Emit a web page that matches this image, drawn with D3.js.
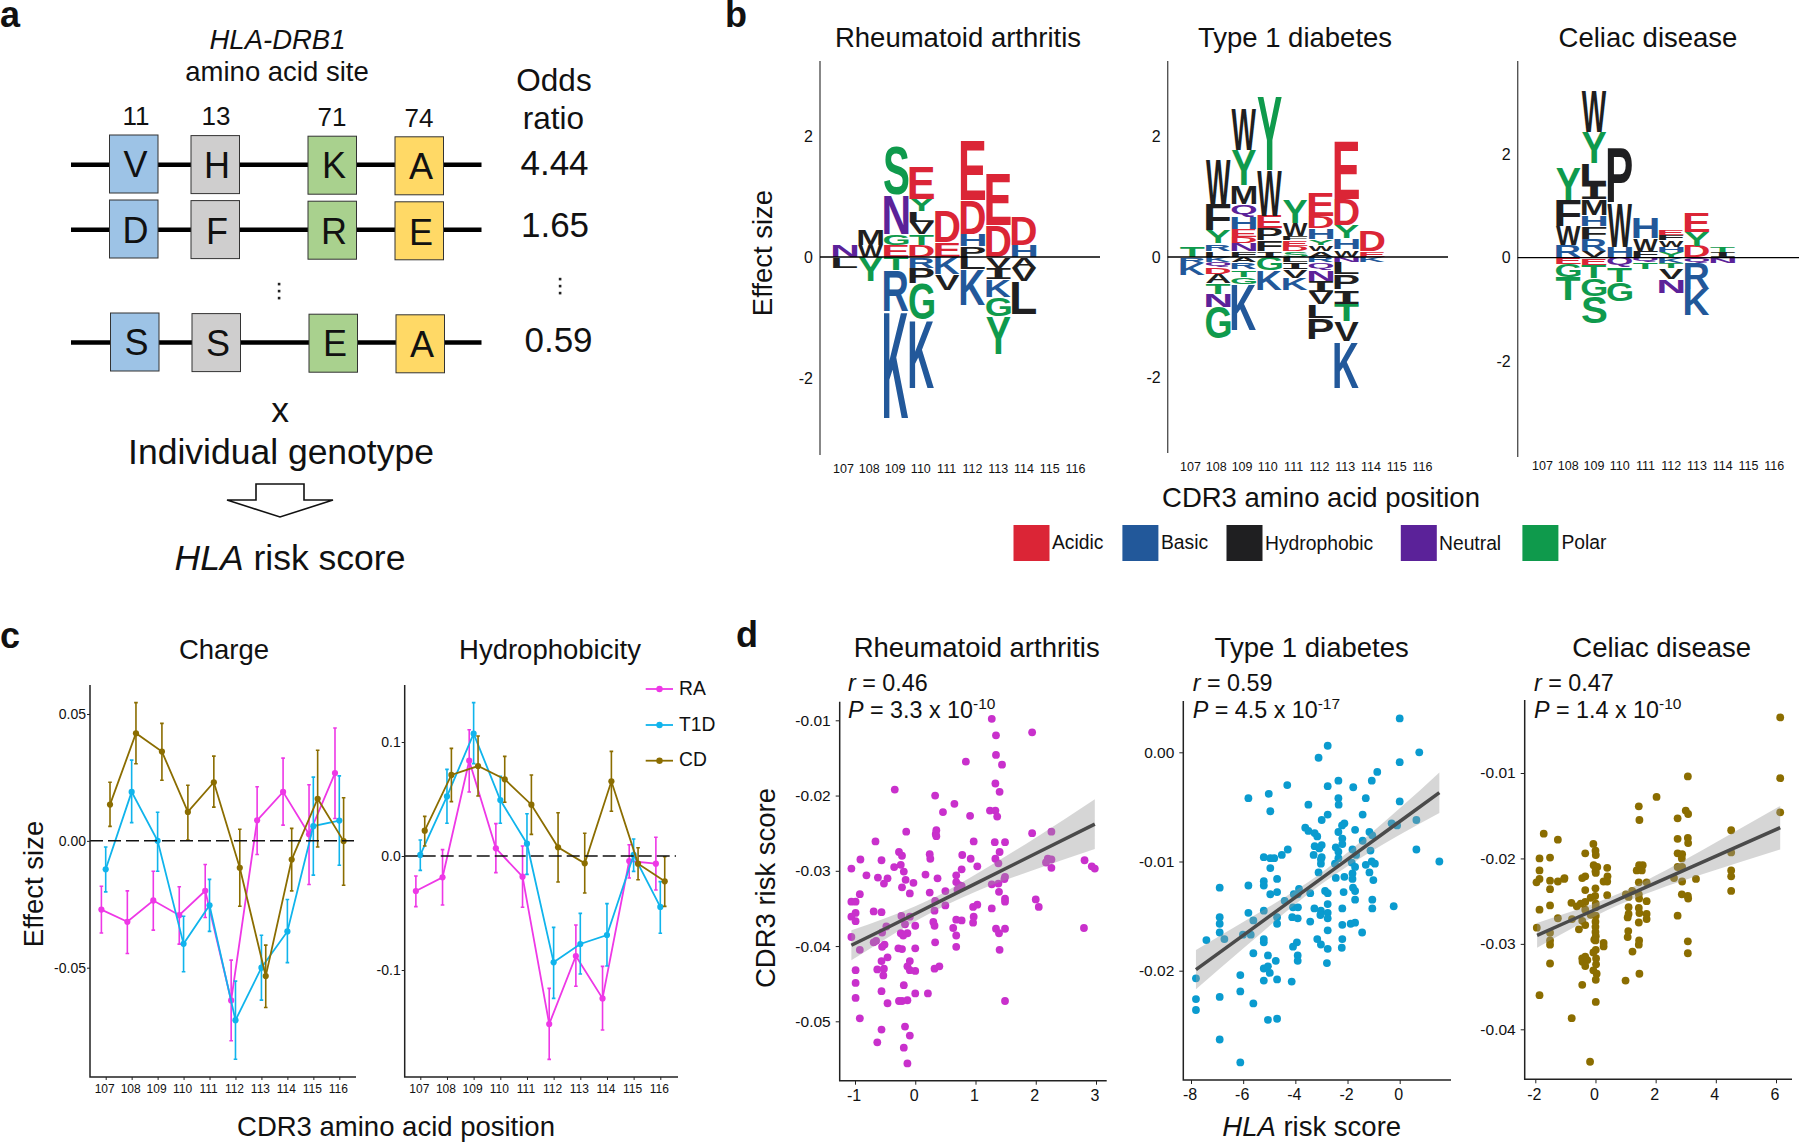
<!DOCTYPE html>
<html><head><meta charset="utf-8">
<script src="https://cdn.jsdelivr.net/npm/d3@7/dist/d3.min.js"></script>
<style>html,body{margin:0;padding:0;background:#fff}svg{display:block}text{font-family:"Liberation Sans",Arial,sans-serif;fill:#111}</style>
</head><body><svg id="c" width="1800" height="1145" viewBox="0 0 1800 1145"></svg>
<script>
// ---------- panel a
const siteLabels=["11","13","71","74"];
const alleleRows=[["V","H","K","A"],["D","F","R","E"],["S","S","E","A"]];
const oddsRatios=["4.44","1.65","0.59"];
const boxColors=["#9DC3E6","#CFCECE","#A9D18E","#FFD966"];
// ---------- panel b : [position, up-stack from zero, down-stack from zero], heights in effect size
const logoRA=[
[107,[["N",.20]],[["L",.18]]],
[108,[["W",.20],["M",.26]],[["Y",.40]]],
[109,[["E",.19],["G",.19],["N",.65],["S",.82]],[["T",.22],["R",.67],["K",1.78]]],
[110,[["D",.19],["T",.18],["V",.20],["L",.18],["Y",.21],["E",.53]],[["R",.18],["P",.26],["G",.60],["K",1.13]]],
[111,[["E",.25],["D",.52]],[["K",.28],["V",.27]]],
[112,[["P",.17],["H",.20],["D",.56],["E",.98]],[["L",.21],["K",.59]]],
[113,[["D",.52],["E",.85]],[["V",.18],["I",.19],["K",.29],["G",.32],["Y",.63]]],
[114,[["H",.19],["D",.48]],[["A",.18],["V",.22],["L",.54]]]];
const logoT1D=[
[107,[["T",.18]],[["R",.10],["K",.20]]],
[108,[["L",.10],["R",.12],["Y",.21],["F",.43],["W",.75]],[["K",.09],["Q",.09],["D",.11],["A",.15],["T",.17],["N",.22],["G",.53]]],
[109,[["F",.09],["N",.13],["D",.11],["E",.13],["H",.21],["Q",.21],["M",.31],["Y",.58],["W",.68]],[["A",.09],["R",.12],["T",.12],["G",.12],["K",.76]]],
[110,[["I",.09],["F",.18],["P",.20],["E",.21],["W",.76],["Y",1.22]],[["G",.23],["K",.33]]],
[111,[["S",.09],["D",.09],["E",.09],["F",.08],["W",.21],["Y",.38]],[["L",.09],["I",.12],["V",.14],["K",.20]]],
[112,[["A",.09],["W",.10],["Y",.10],["H",.18],["D",.20],["E",.40]],[["R",.09],["Q",.12],["N",.19],["I",.19],["V",.20],["L",.22],["P",.36]]],
[113,[["W",.12],["H",.19],["Y",.21],["D",.43],["E",.96]],[["N",.09],["L",.20],["P",.25],["I",.24],["T",.29],["V",.33],["K",.77]]],
[114,[["E",.09],["D",.35]],[["K",.09]]]];
const logoCD=[
[108,[["R",.23],["W",.37],["F",.50],["Y",.62]],[["E",.12],["G",.26],["T",.45]]],
[109,[["V",.13],["R",.23],["F",.24],["H",.22],["M",.30],["I",.29],["L",.41],["Y",.60],["W",.79]],[["E",.14],["T",.26],["G",.35],["S",.52]]],
[110,[["H",.21],["W",.84],["P",1.07]],[["Q",.19],["T",.29],["G",.36]]],
[111,[["F",.13],["W",.24],["H",.40]],[["Q",.09],["T",.14]]],
[112,[["Y",.11],["H",.10],["W",.12],["F",.11],["E",.11]],[["K",.11],["T",.10],["V",.20],["N",.27]]],
[113,[["D",.22],["Y",.27],["E",.38]],[["Q",.10],["R",.50],["K",.52]]],
[114,[["I",.10],["T",.11]],[["N",.10]]]];
const legendClasses=["Acidic","Basic","Hydrophobic","Neutral","Polar"];
const classColors={Acidic:"#DB2536",Basic:"#22589A",Hydrophobic:"#1F1F21",Neutral:"#5B2299",Polar:"#0F9A4C"};
const classOfLetter={D:"Acidic",E:"Acidic",K:"Basic",R:"Basic",H:"Basic",A:"Hydrophobic",V:"Hydrophobic",L:"Hydrophobic",I:"Hydrophobic",P:"Hydrophobic",F:"Hydrophobic",W:"Hydrophobic",M:"Hydrophobic",Q:"Neutral",N:"Neutral",S:"Polar",G:"Polar",T:"Polar",Y:"Polar"};
// ---------- panel c : [centre, upper, lower]
const cdr3Positions=[107,108,109,110,111,112,113,114,115,116];
const chargeRA=[[-.0271,-.0179,-.0363],[-.0319,-.0197,-.0444],[-.0235,-.012,-.0352],[-.0293,-.0181,-.0407],[-.0197,-.0093,-.0302],[-.0629,-.047,-.0788],[.0081,.0213,-.0054],[.0193,.0326,.0062],[.0026,.0221,-.0172],[.0267,.0445,.0088]];
const chargeT1D=[[-.0112,-.0024,-.0201],[.0193,.0318,.0072],[0,.0113,-.012],[-.0406,-.0297,-.0516],[-.0254,-.0152,-.0357],[-.0707,-.0553,-.0861],[-.05,-.0372,-.0628],[-.0357,-.0231,-.048],[.0058,.0251,-.0135],[.008,.0256,-.0096]];
const chargeCD=[[.0143,.0231,.0057],[.0424,.0545,.0304],[.0352,.0463,.0239],[.0114,.0219,.0003],[.0231,.0334,.0133],[-.0106,.0046,-.0258],[-.0533,-.0411,-.0657],[-.0074,.0049,-.0197],[.0166,.0357,-.0024],[-.0001,.017,-.0175]];
const hydroRA=[[-.0307,-.0175,-.0444],[-.0187,.0056,-.043],[.0836,.1108,.0561],[.0067,.0284,-.0146],[-.0181,.0088,-.045],[-.1474,-.1161,-.1784],[-.0877,-.0605,-.1143],[-.1249,-.0968,-.1526],[-.0044,.0099,-.0193],[-.0067,.0164,-.0298]];
const hydroT1D=[[.0009,.014,-.0126],[.0523,.076,.0287],[.1073,.1345,.081],[.0491,.0699,.0287],[.0108,.0371,-.0161],[-.0933,-.0626,-.1249],[-.0772,-.0503,-.1035],[-.0693,-.0418,-.0965],[.0009,.0149,-.0135],[-.0447,-.0225,-.0678]];
const hydroCD=[[.0222,.0348,.0088],[.0711,.0944,.0477],[.0789,.1053,.0526],[.0673,.0874,.0471],[.045,.0711,.019],[.0076,.038,-.0228],[-.0064,.0199,-.0325],[.0655,.0918,.0392],[-.0067,.0073,-.0208],[-.0222,-.0006,-.0442]];
// ---------- panel d : [HLA risk score, CDR3 risk score x 1000]
const scatterRA=[[1.27,-9.8],[1.34,-12],[1.34,-14.6],[1.44,-15.9],[1.94,-11.6],[.84,-15.5],[1.33,-18.4],[1.4,-19.5],[-.34,-19.2],[.33,-20],[.65,-21.1],[.46,-22.2],[1.24,-22],[1.33,-22],[1.36,-22.8],[.91,-22.7],[.35,-24.6],[.34,-25.1],[.35,-25.4],[-.15,-24.8],[1.94,-25],[2.26,-24.8],[-.66,-26.1],[.97,-26.1],[1.32,-26.2],[1.49,-26.2],[-.27,-27.5],[-.22,-28],[.24,-27.8],[.25,-28.4],[.78,-27.9],[1.4,-27.5],[.92,-28.4],[1.33,-28.4],[-.91,-28.5],[-.56,-28.6],[1.38,-29],[2.81,-28.6],[2.2,-28.4],[2.26,-28.5],[2.17,-28.9],[-.24,-29.2],[-.35,-29.5],[-.19,-30.1],[1.03,-29.4],[.77,-29.8],[-1.06,-29.7],[2.26,-29.6],[2.93,-29.4],[2.98,-29.7],[-.81,-30.6],[-.62,-30.9],[-.46,-31],[-.52,-31.7],[-.16,-31.2],[.17,-30.5],[.37,-31],[.68,-30.6],[.68,-31.5],[1.49,-30.8],[1.48,-31.1],[-.03,-31.6],[-.22,-32.2],[.73,-31.9],[.77,-32],[.7,-32.5],[.5,-32.7],[1.27,-31.8],[1.38,-31.7],[-.09,-33],[.24,-32.9],[-.92,-33.1],[1.39,-32.8],[-1.06,-34.1],[-.99,-34.1],[.33,-34],[.5,-34.6],[1.49,-33.7],[1.49,-34.1],[1.03,-34.5],[.96,-34.8],[1.27,-35],[2,-33.8],[2.05,-34.8],[-.69,-35.4],[-.56,-35.5],[-.99,-35.6],[-1.06,-36.1],[-.99,-36.7],[.32,-35.3],[-.23,-36],[-.09,-36.1],[.97,-36.1],[.68,-36.5],[.77,-36.6],[.96,-36.9],[.3,-36.8],[.32,-37.3],[0,-37.3],[-.48,-37.4],[-.17,-37.1],[.63,-37.6],[1.34,-37.7],[1.49,-37.7],[2.8,-37.6],[-.55,-38.2],[-.24,-38.3],[-.13,-38.3],[-.2,-38.6],[1.39,-38.3],[.68,-38.6],[-1.06,-38.8],[-.65,-39.3],[-.69,-39.5],[-.51,-39.8],[-.55,-40.1],[.33,-39.5],[.68,-40.1],[-.28,-40.3],[-.22,-40.4],[0,-40.3],[-.92,-40.5],[1.4,-40.5],[-.46,-41.5],[-.56,-42],[-.09,-42],[-.99,-43.2],[-.63,-43.1],[-.52,-43],[-.53,-43.9],[-.13,-42.7],[-.09,-43.2],[0,-43.3],[.32,-43],[.4,-42.7],[-.99,-44.9],[-.19,-45.2],[-.56,-46],[0,-46.3],[.21,-46.3],[-.99,-46.9],[-.27,-47.3],[-.22,-47.3],[-.13,-47.2],[-.46,-47.6],[1.49,-47.3],[-.92,-49.6],[-.17,-50.7],[-.56,-51.1],[-.09,-51.9],[-.63,-52.8],[-.19,-53.5],[-.13,-55.6]];
const scatterT1D=[[0,3.1],[-2.76,.6],[-3.11,-.5],[.75,0],[0,-.9],[-.86,-1.8],[-1.07,-2.6],[-2.35,-2.6],[-2.76,-3.1],[-1.78,-3.2],[-4.31,-3],[-5.02,-3.8],[-5.8,-4.2],[-1.3,-4.2],[-2.35,-4.2],[0,-4.5],[-3.5,-4.8],[-2.34,-4.8],[-4.96,-5.4],[-2.76,-5.7],[-1.42,-5.7],[-2.99,-6.2],[.64,-6.2],[-.31,-6.5],[-.1,-6.7],[-2.12,-6.5],[-2.21,-6.7],[-3.62,-6.9],[-3.5,-7.2],[-1.71,-7.1],[-2.35,-7.3],[-1.16,-7.3],[-3.26,-7.4],[-1.05,-7.6],[-3.16,-7.7],[-2.2,-7.9],[-1.42,-8.1],[-2.99,-8.5],[-2.2,-8.4],[-3.26,-8.6],[-3.08,-8.8],[-2.45,-8.7],[-2.35,-9.1],[-4.29,-8.9],[-1.81,-8.9],[.64,-8.9],[-1.12,-9],[-4.52,-9.4],[-3.3,-9.4],[-5.21,-9.6],[-4.96,-9.7],[-4.81,-9.7],[-2.99,-9.6],[-3.02,-9.8],[-1.67,-9.4],[-2.35,-9.7],[-3.02,-10.2],[-2.48,-10.2],[-1.84,-10.1],[-1.3,-10.3],[-1.71,-10.5],[-1.07,-10],[-.95,-10.2],[-4.96,-10.6],[1.52,-10],[-3.11,-11],[-1.16,-11],[-1.81,-11.1],[-2.45,-11.5],[-2.12,-11.4],[-1.81,-11.6],[-4.7,-11.6],[-1.01,-11.7],[-5.21,-11.8],[-5.21,-12.2],[-5.8,-12.2],[-6.9,-12.4],[-1.79,-12.4],[-3.86,-12.5],[-2.86,-12.7],[-2.76,-12.9],[-1.71,-12.7],[-4.7,-12.8],[-2.15,-12.8],[-4.96,-13],[-3.43,-12.9],[-4.06,-13],[-3.91,-13],[-4.41,-13.6],[-1.71,-13.5],[-1.05,-13.5],[-2.76,-13.9],[-4.09,-14.2],[-3.9,-14.2],[-2.2,-14.3],[-1.05,-14.3],[-.23,-14.1],[-3.27,-14.3],[-5.21,-14.5],[-5.8,-14.7],[-3.02,-14.5],[-2.76,-14.7],[-3.04,-14.9],[-6.9,-15.1],[-4.7,-15.1],[-4.12,-15.1],[-3.91,-15.2],[-2.76,-15.2],[-5.61,-15.4],[-3.43,-15.5],[-6.9,-15.7],[-4.7,-15.7],[-2.2,-15.8],[-1.88,-15.7],[-1.71,-15.6],[-2.76,-16.3],[-6.9,-16.5],[-6.01,-16.7],[-5.71,-16.7],[-1.44,-16.5],[-6.72,-17.1],[-7.41,-17.2],[-5.21,-17.1],[-5.21,-17.4],[-3.16,-17.1],[-2.2,-17.1],[-3.02,-17.6],[-3.94,-17.4],[-4.09,-17.8],[-2.76,-18],[-2.22,-17.9],[-5.61,-18.4],[-5.05,-18.6],[-3.91,-18.6],[-3.91,-19.1],[-4.75,-19.1],[-2.79,-19.3],[-5.21,-19.8],[-5.05,-19.6],[-4.98,-20.2],[-6.11,-20.4],[-7.81,-20.7],[-5.21,-20.9],[-4.7,-20.8],[-4.14,-21],[-6.11,-21.9],[-7.81,-22.6],[-6.9,-22.4],[-5.61,-23],[-7.81,-23.6],[-5.05,-24.5],[-4.7,-24.4],[-6.9,-26.3],[-6.11,-28.4]];
const scatterCD=[[6.14,-3.5],[3.07,-10.4],[6.14,-10.6],[2.03,-12.8],[1.44,-13.9],[3,-14.4],[3.08,-14.8],[6.14,-14.6],[1.46,-15.5],[2.73,-15.3],[4.51,-16.7],[-1.72,-17.1],[-1.25,-17.8],[2.73,-17.7],[3.07,-17.6],[3.08,-18.2],[-.07,-18.3],[0,-19.1],[.01,-19.6],[-.34,-19.4],[2.73,-19.4],[2.88,-19.5],[2.87,-20],[-1.86,-20],[-1.51,-19.9],[4.51,-19.3],[-1.86,-21.4],[-.06,-20.8],[.06,-21],[.39,-21.1],[0,-21.5],[1.37,-21.4],[1.45,-20.8],[1.57,-20.8],[1.54,-21.4],[2.73,-21],[2.88,-21],[.01,-21.7],[.4,-22.1],[-.34,-22.1],[-.44,-22.3],[-1.86,-22.4],[-1.96,-22.8],[-1.51,-22.6],[-1.25,-22.7],[-1.03,-22.3],[-1.04,-22.4],[.39,-22.7],[.27,-22.7],[4.51,-21.4],[4.51,-22.1],[2.61,-22.3],[3.34,-22.4],[2.88,-22.7],[1.44,-22.8],[1.7,-22.8],[0,-23.5],[-.34,-23.7],[-1.51,-23.6],[-.01,-24.4],[-.16,-24.6],[.39,-24.3],[1.01,-24.2],[1.22,-23.8],[1.1,-24.5],[1.44,-24.2],[1.45,-24.7],[2.87,-24.2],[3.07,-24.4],[3.08,-24.7],[4.51,-23.8],[-.8,-25.2],[-.34,-25.1],[-.49,-25.3],[-.62,-25.6],[-1.51,-25.5],[-1.86,-26],[.01,-25.3],[.01,-25.7],[-.34,-26],[1.1,-25.7],[1.44,-25.8],[1.7,-25],[1.1,-26.5],[1.46,-26.4],[1.7,-26.5],[1.07,-26.9],[-1.25,-27],[2.73,-26.7],[1.7,-27.1],[-.16,-26.6],[.01,-26.7],[-.78,-27.1],[-.44,-27.3],[-.34,-27.8],[0,-27.4],[1.44,-27.5],[-1.95,-28.1],[-.55,-28.3],[0,-28],[0,-28.6],[1.09,-28.5],[1.07,-29.2],[-1.51,-28.7],[-1.51,-29.6],[-1.51,-30.1],[.01,-29.1],[-.04,-29.5],[0,-29.6],[.27,-29.9],[.27,-30.3],[1.45,-29.6],[1.44,-30.1],[3.07,-29.7],[3.07,-31.1],[1.23,-30.9],[.01,-30.7],[-.07,-31],[-.44,-31.7],[-.34,-31.5],[-.43,-32.1],[-.27,-31.9],[.02,-31.7],[-.34,-32.6],[.02,-32.4],[-.07,-33.1],[.04,-33.5],[.01,-34.2],[-1.51,-32.3],[1.46,-33.5],[1,-34.3],[-.44,-34.8],[-1.86,-36],[.01,-36.8],[-.79,-38.7],[-.18,-43.8]];
// regression lines and confidence bands: [x, line, upper, lower]
const fitRA=[[-1.06,-39.9,-37.9,-41.9],[-.5,-37.7,-36.3,-39.1],[0,-35.7,-34.7,-36.7],[.4,-34.1,-33.2,-35],[1,-31.7,-30.5,-32.8],[2,-27.7,-25.6,-29.8],[2.98,-23.8,-20.5,-27.1]];
const fitT1D=[[-7.81,-19.9,-18.1,-21.7],[-6,-16.76,-15.55,-17.97],[-4,-13.29,-12.66,-13.92],[-3,-11.55,-11.03,-12.07],[-2,-9.81,-9.18,-10.44],[0,-6.34,-5.13,-7.55],[1.52,-3.7,-1.84,-5.56]];
const fitCD=[[-1.94,-29,-27.56,-30.44],[-1,-27.53,-26.46,-28.6],[0,-25.98,-25.22,-26.74],[.8,-24.73,-24.07,-25.39],[2,-22.86,-22,-23.72],[3.5,-20.52,-19.12,-21.92],[6.14,-16.4,-13.86,-18.94]];

const svg=d3.select("#c");
function T(x,y,s,size,o={}){const t=svg.append("text").attr("x",x).attr("y",y).attr("font-size",size).attr("text-anchor",o.anchor||"middle").text(s);
 if(o.bold)t.attr("font-weight","bold");if(o.italic)t.attr("font-style","italic");if(o.rot)t.attr("transform",`rotate(${o.rot} ${x} ${y})`);return t;}
// panel letters
T(0,27,"a",36,{bold:1,anchor:"start"});T(725,27,"b",36,{bold:1,anchor:"start"});
T(0,648,"c",36,{bold:1,anchor:"start"});T(736,647,"d",36,{bold:1,anchor:"start"});

// ===== panel a =====
T(277.5,49,"HLA-DRB1",27.5,{italic:1});T(277,81,"amino acid site",27.5);
T(554,91,"Odds",31.5);T(553.5,129,"ratio",31.5);
const siteX=[109.5,191,308,395],rowLine=[164.7,229.7,342.5],rowTop=[135,200,313],rowBase=[177,243,355];
const siteTxtY=[125,125,126,127],siteTxtX=[136,216,332,419];
siteLabels.forEach((s,i)=>T(siteTxtX[i],siteTxtY[i],s,26));
alleleRows.forEach((row,r)=>{
 svg.append("line").attr("x1",71).attr("x2",481.5).attr("y1",rowLine[r]).attr("y2",rowLine[r]).attr("stroke","#000").attr("stroke-width",4.6);
 row.forEach((a,i)=>{const dx=r==2?1:0;
  svg.append("rect").attr("x",siteX[i]+dx).attr("y",rowTop[r]+i*.6).attr("width",48.5).attr("height",58).attr("fill",boxColors[i]).attr("stroke","#333").attr("stroke-width",1);
  T(siteX[i]+dx+26,rowBase[r]+i*.6,a,36);
 });
});
[["4.44",554.5,175],["1.65",555,237],["0.59",558.5,351.5]].forEach((d,i)=>T(d[1],d[2],oddsRatios[i],35));
[[279,[284,291,298]],[560,[279,286,293]]].forEach(([x,ys])=>ys.forEach(y=>svg.append("rect").attr("x",x-1.2).attr("y",y-1.2).attr("width",2.6).attr("height",2.6).attr("fill","#222")));
T(280,422,"x",35.5);T(281,464,"Individual genotype",35.5);
svg.append("path").attr("d","M227 500H256V484H304V500H333L280 517Z").attr("fill","#fff").attr("stroke","#111").attr("stroke-width",1.6);
const hr=T(290,569.5,"",35.5);hr.append("tspan").attr("font-style","italic").text("HLA");hr.append("tspan").text(" risk score");

// ===== panel b =====
const ctx=document.createElement("canvas").getContext("2d");
function glyph(l,x0,x1,y0,y1,color){
 const fam=l==="I"?'"Liberation Mono"':'"Liberation Sans"';
 ctx.font=`bold 100px ${fam}`;
 const m=ctx.measureText(l);
 const L=-m.actualBoundingBoxLeft,R=m.actualBoundingBoxRight,A=m.actualBoundingBoxAscent,D=m.actualBoundingBoxDescent;
 const sx=(x1-x0)/(R-L),sy=(y1-y0)/(A+D);
 svg.append("text").attr("font-size",100).attr("font-weight","bold").style("font-family",fam).style("fill",color)
  .attr("transform",`translate(${x0-L*sx},${y1-D*sy}) scale(${sx},${sy})`).text(l);}
function logo(o){
 const x=d3.scaleLinear().domain([107,114]).range([o.x0,o.x1]);
 const y=d3.scaleLinear().domain([2,-2]).range([o.zero-o.h,o.zero+o.h]);
 const w=24.6;
 o.data.forEach(([p,up,down])=>{
  let s=0;up.forEach(([l,v])=>{glyph(l,x(p)-w/2,x(p)+w/2,y(s+v)+.3,y(s)-.3,classColors[classOfLetter[l]]);s+=v;});
  s=0;down.forEach(([l,v])=>{glyph(l,x(p)-w/2,x(p)+w/2,y(s)+.3,y(s-v)-.3,classColors[classOfLetter[l]]);s-=v;});
 });
 svg.append("line").attr("x1",o.axis).attr("x2",o.axis).attr("y1",61).attr("y2",o.bottom).attr("stroke","#555").attr("stroke-width",1.4);
 svg.append("line").attr("x1",o.axis).attr("x2",o.end).attr("y1",o.zero).attr("y2",o.zero).attr("stroke","#000").attr("stroke-width",1.3);
 const ya=svg.append("g").attr("transform",`translate(${o.axis-7},0)`).call(d3.axisLeft(y).tickValues([2,0,-2]).tickSize(0).tickFormat(v=>String(v)));
 ya.select(".domain").remove();ya.selectAll("text").attr("font-size",16).attr("font-family",null).attr("dx",3);
 const xl=d3.scaleLinear().domain([107,116]).range([o.l0,o.l1]);
 const xa=svg.append("g").attr("transform",`translate(0,${o.labY-11})`).call(d3.axisBottom(xl).tickValues(cdr3Positions).tickSize(0).tickFormat(String));
 xa.select(".domain").remove();xa.selectAll("text").attr("font-size",12.5).attr("font-family",null).attr("y",0).attr("dy","0.84em");
 T(o.titleX,47,o.title,27.5);
}
logo({data:logoRA,x0:845,x1:1024,zero:257,h:121,axis:820,bottom:455,end:1100,l0:843,l1:1075,labY:473,title:"Rheumatoid arthritis",titleX:958});
logo({data:logoT1D,x0:1192.5,x1:1372.3,zero:257,h:120.7,axis:1167.7,bottom:453,end:1448,l0:1190,l1:1422,labY:471,title:"Type 1 diabetes",titleX:1295});
logo({data:logoCD,x0:1542.6,x1:1722.7,zero:257.7,h:103.7,axis:1517.7,bottom:457,end:1799,l0:1542,l1:1773.7,labY:470,title:"Celiac disease",titleX:1648});
T(772,253,"Effect size",27.5,{rot:-90});
T(1321,507,"CDR3 amino acid position",27.5);
const swX=[1013.5,1122.4,1226.5,1400.8,1522.4],labX=[1052,1161,1265,1439,1561.5],labY=[549,549,550,550,549];
legendClasses.forEach((c,i)=>{svg.append("rect").attr("x",swX[i]).attr("y",525).attr("width",36).attr("height",36).attr("fill",classColors[c]);
 T(labX[i],labY[i],c,19.3,{anchor:"start"});});

// ===== panel c =====
const seriesColor={RA:"#EE38E6",T1D:"#10B4EC",CD:"#8B6D00"};
const dodge={RA:-.166,T1D:0,CD:.166};
function profile(o){
 const x=d3.scaleLinear().domain([107,116]).range(o.xr);
 const y=d3.scaleLinear().domain(o.yd).range(o.yr);
 const bottom=1077;
 [["RA",o.RA],["T1D",o.T1D],["CD",o.CD]].forEach(([k,d])=>{
  const g=svg.append("g"),c=seriesColor[k],X=i=>x(cdr3Positions[i]+dodge[k]);
  g.append("path").attr("d",d3.line().x((v,i)=>X(i)).y(v=>y(v[0]))(d)).attr("fill","none").attr("stroke",c).attr("stroke-width",1.8);
  d.forEach((v,i)=>{
   g.append("path").attr("d",`M${X(i)-1.8} ${y(v[1])}H${X(i)+1.8}M${X(i)} ${y(v[1])}V${y(v[2])}M${X(i)-1.8} ${y(v[2])}H${X(i)+1.8}`).attr("fill","none").attr("stroke",c).attr("stroke-width",1.6);
   g.append("circle").attr("cx",X(i)).attr("cy",y(v[0])).attr("r",3.1).attr("fill",c);
  });
 });
 svg.append("line").attr("x1",o.axis).attr("x2",o.end).attr("y1",y(0)).attr("y2",y(0)).attr("stroke","#111").attr("stroke-width",1.5).attr("stroke-dasharray","13 5");
 const ya=svg.append("g").attr("transform",`translate(${o.axis},0)`).call(d3.axisLeft(y).tickValues(o.ticks).tickSize(3).tickFormat(o.fmt));
 ya.select(".domain").remove();ya.selectAll("line").attr("stroke","#222");ya.selectAll("text").attr("font-size",14).attr("font-family",null).attr("x",-4);
 const xa=svg.append("g").attr("transform",`translate(0,${bottom})`).call(d3.axisBottom(x).tickValues(cdr3Positions).tickSize(3).tickFormat(String));
 xa.select(".domain").remove();xa.selectAll("line").attr("stroke","#222");xa.selectAll("text").attr("font-size",12).attr("font-family",null).attr("y",7).attr("dx",-1.5);
 svg.append("path").attr("d",`M${o.axis} 685V${bottom}H${o.end+2}`).attr("fill","none").attr("stroke","#222").attr("stroke-width",1.5);
 T(o.titleX,659,o.title,27.5);
}
profile({RA:chargeRA,T1D:chargeT1D,CD:chargeCD,xr:[105.7,339.3],yd:[.05,-.05],yr:[714,967.7],axis:90,end:354,ticks:[.05,0,-.05],fmt:v=>v.toFixed(2),title:"Charge",titleX:224});
profile({RA:hydroRA,T1D:hydroT1D,CD:hydroCD,xr:[420.3,660.3],yd:[.1,-.1],yr:[742,970],axis:404.7,end:676,ticks:[.1,0,-.1],fmt:v=>v.toFixed(1),title:"Hydrophobicity",titleX:550});
T(43,884,"Effect size",27.5,{rot:-90});
T(396,1136,"CDR3 amino acid position",27.5);
[["RA",689],["T1D",725],["CD",760.7]].forEach(([k,y])=>{
 svg.append("line").attr("x1",645.7).attr("x2",673).attr("y1",y).attr("y2",y).attr("stroke",seriesColor[k]).attr("stroke-width",1.8);
 svg.append("circle").attr("cx",659.5).attr("cy",y).attr("r",3.2).attr("fill",seriesColor[k]);
 T(679,y+5.5,k,19.3,{anchor:"start"});
});

// ===== panel d =====
function scatter(o){
 const x=d3.scaleLinear().domain(o.xd).range(o.xr);
 const y=d3.scaleLinear().domain(o.yd).range(o.yr);
 svg.append("g").selectAll("circle").data(o.pts).join("circle").attr("cx",d=>x(d[0])).attr("cy",d=>y(d[1])).attr("r",3.9).attr("fill",o.color);
 svg.append("path").attr("d",d3.area().x(d=>x(d[0])).y0(d=>y(d[3])).y1(d=>y(d[2])).curve(d3.curveMonotoneX)(o.fit)).attr("fill","#999").attr("fill-opacity",.4);
 svg.append("path").attr("d",d3.line().x(d=>x(d[0])).y(d=>y(d[1]))(o.fit)).attr("fill","none").attr("stroke","#4a4a4a").attr("stroke-width",3.5);
 const ya=svg.append("g").attr("transform",`translate(${o.axis},0)`).call(d3.axisLeft(y).tickValues(o.yt).tickSize(4).tickFormat(v=>(v/1000).toFixed(2)));
 ya.select(".domain").remove();ya.selectAll("line").attr("stroke","#222");ya.selectAll("text").attr("font-size",15.5).attr("font-family",null).attr("x",-9);
 const xa=svg.append("g").attr("transform",`translate(0,${o.bottom})`).call(d3.axisBottom(x).tickValues(o.xt).tickSize(4).tickFormat(String));
 xa.select(".domain").remove();xa.selectAll("line").attr("stroke","#222");xa.selectAll("text").attr("font-size",16).attr("font-family",null).attr("y",9).attr("dx",-1.5);
 svg.append("path").attr("d",`M${o.axis} ${o.top}V${o.bottom}H${o.end}`).attr("fill","none").attr("stroke","#222").attr("stroke-width",1.5);
 T(o.titleX,656.7,o.title,27.5);
 const r=T(o.textX,690.5,"",23.3,{anchor:"start"});r.append("tspan").attr("font-style","italic").text("r");r.append("tspan").text(" = "+o.r);
 const p=T(o.textX,718,"",23.3,{anchor:"start"});p.append("tspan").attr("font-style","italic").text("P");p.append("tspan").text(" = "+o.p+" x 10");p.append("tspan").attr("font-size",15.5).attr("dy",-9).text(o.exp);
}
scatter({pts:scatterRA,fit:fitRA,color:"#C930CC",xd:[-1,3],xr:[855,1096],yd:[-10,-50],yr:[720.3,1021.3],axis:839.7,top:701.7,bottom:1080.7,end:1106.7,xt:[-1,0,1,2,3],yt:[-10,-20,-30,-40,-50],title:"Rheumatoid arthritis",titleX:976.7,textX:848,r:"0.46",p:"3.3",exp:"-10"});
scatter({pts:scatterT1D,fit:fitT1D,color:"#0A9BCF",xd:[-8,0],xr:[1191,1399.7],yd:[0,-20],yr:[752.3,970.7],axis:1183.3,top:701,bottom:1080,end:1451,xt:[-8,-6,-4,-2,0],yt:[0,-10,-20],title:"Type 1 diabetes",titleX:1311.7,textX:1192.7,r:"0.59",p:"4.5",exp:"-17"});
scatter({pts:scatterCD,fit:fitCD,color:"#8B6D00",xd:[-2,6],xr:[1535.3,1776],yd:[-10,-40],yr:[773,1029.3],axis:1524.7,top:700,bottom:1079.3,end:1792,xt:[-2,0,2,4,6],yt:[-10,-20,-30,-40],title:"Celiac disease",titleX:1661.7,textX:1534,r:"0.47",p:"1.4",exp:"-10"});
T(775,888,"CDR3 risk score",27.5,{rot:-90});
const hx=T(1311.7,1136,"",27.5);hx.append("tspan").attr("font-style","italic").text("HLA");hx.append("tspan").text(" risk score");
</script></body></html>
